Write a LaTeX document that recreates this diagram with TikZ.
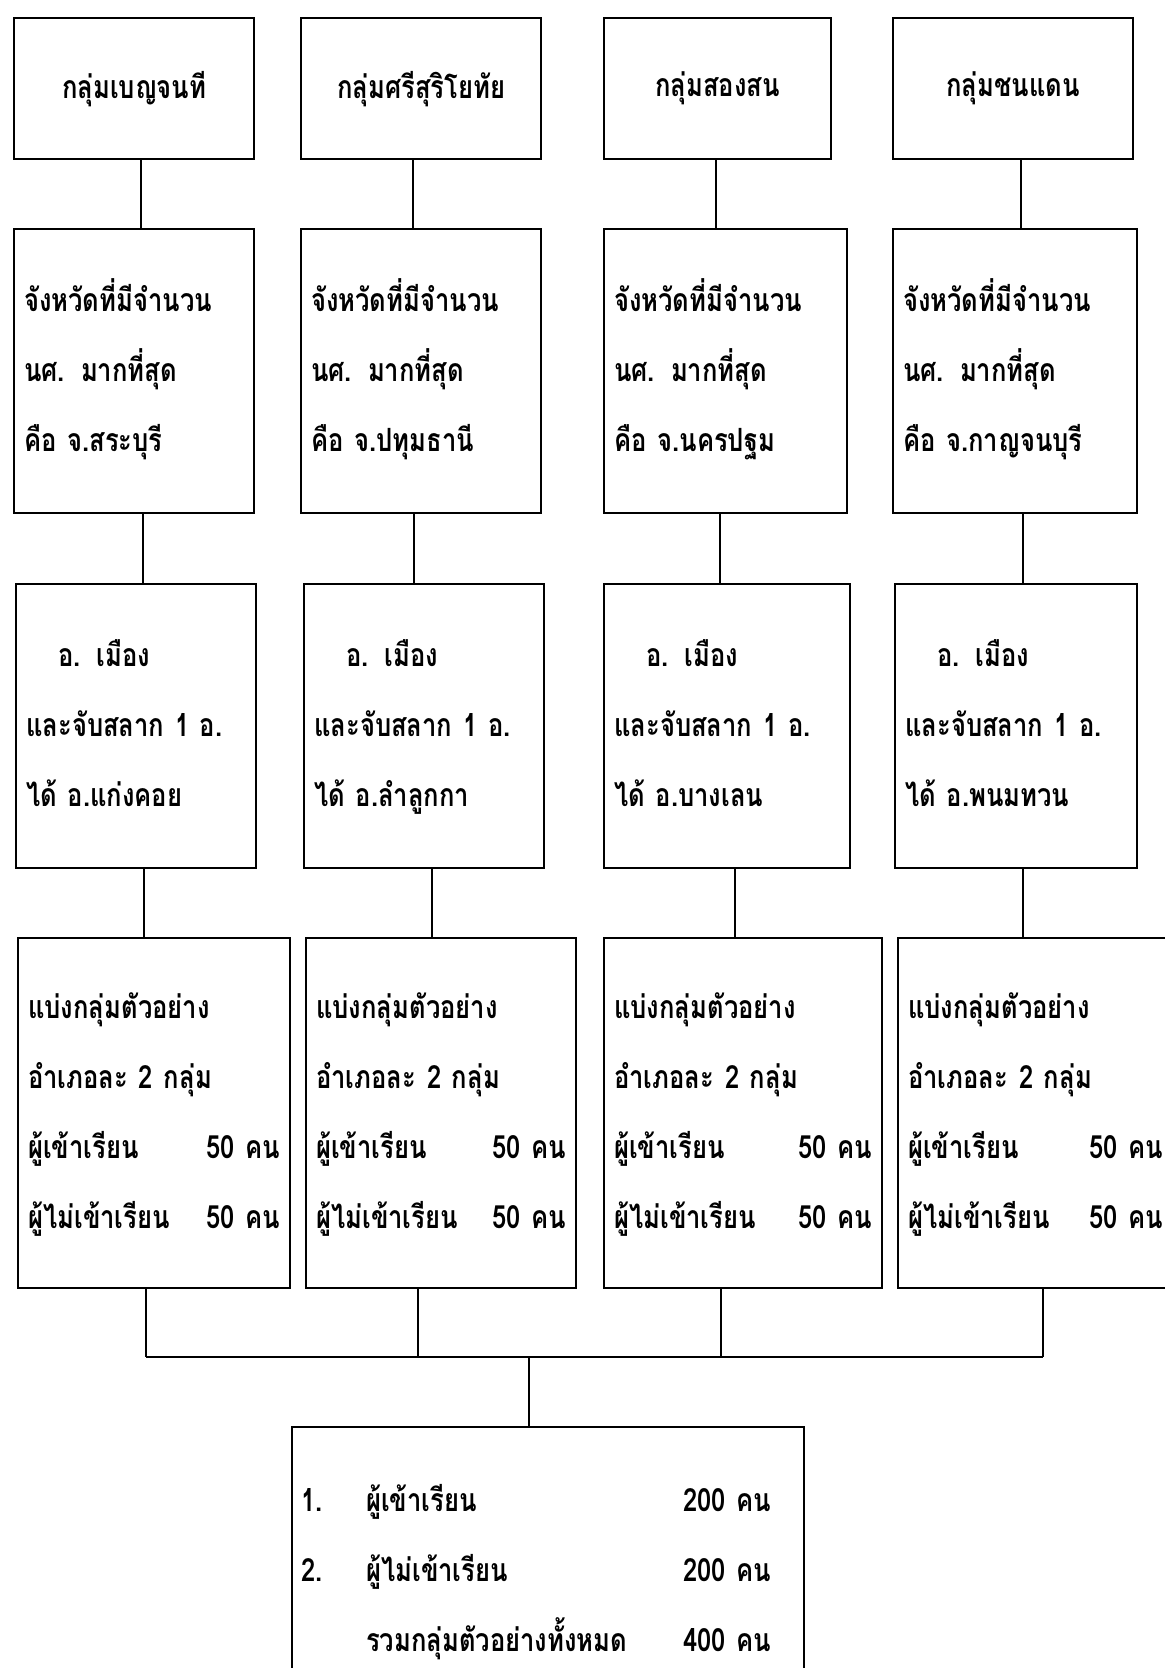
\documentclass[tikz,border=0pt]{standalone}
\usepackage{fontspec}
\newfontfamily\thaifont[Script=Thai, FakeStretch=0.8]{Loma}
\begin{document}
\begin{tikzpicture}[
        x=0.5pt, y=-0.5pt,
        font=\thaifont\bfseries\fontsize{16}{35}\selectfont,
        plain box/.style={draw, line width=1.2pt, anchor=north west, inner xsep=5pt, inner ysep=0pt},
        text box/.style={plain box, align=left},
        row box/.style={text box, execute at begin node={\rule{0pt}{16pt}}, execute at end node={\rule[-6pt]{0pt}{6pt}}},
        link line/.style={line width=1.2pt},
    ]
    \useasboundingbox (0,0) rectangle (1165,1668);

    % Hàng 1: tên กลุ่ม
    \foreach \i/\xa/\xb/\grp in {1/13/253/กลุ่มเบญจนที, 2/300/540/กลุ่มศรีสุริโยทัย, 3/603/830/กลุ่มสองสน, 4/892/1132/กลุ่มชนแดน} {
        \pgfmathsetmacro{\w}{(\xb-\xa)/2}
        \node[plain box, minimum width=\w pt, minimum height=70.5pt] (grp-\i) at (\xa, 17) {\grp};
    }

    % Hàng 2: จังหวัด
    \foreach \i/\xa/\xb/\prov in {1/13/253/สระบุรี, 2/300/540/ปทุมธานี, 3/603/846/นครปฐม, 4/892/1136/กาญจนบุรี} {
        \pgfmathsetmacro{\w}{(\xb-\xa)/2-10}
        \node[row box, text width=\w pt, minimum height=142pt] (prov-\i) at (\xa, 228)
            {จังหวัดที่มีจำนวน\\นศ. มากที่สุด\\คือ จ.\prov};
    }

    % Hàng 3: อำเภอ
    \foreach \i/\xa/\xb/\dist in {1/15/255/แก่งคอย, 2/303/543/ลำลูกกา, 3/603/849/บางเลน, 4/894/1136/พนมทวน} {
        \pgfmathsetmacro{\w}{(\xb-\xa)/2-10}
        \node[row box, text width=\w pt, minimum height=142pt] (dist-\i) at (\xa, 583)
            {\hspace*{16pt}อ. เมือง\\และจับสลาก 1 อ.\\ได้ อ.\dist};
    }

    % Hàng 4: กลุ่มตัวอย่าง
    \foreach \i/\xa/\xb in {1/17/289, 2/305/575, 3/603/881, 4/897/1172} {
        \pgfmathsetmacro{\w}{(\xb-\xa)/2-10}
        \node[row box, text width=\w pt, minimum height=175pt] (samp-\i) at (\xa, 937)
            {แบ่งกลุ่มตัวอย่าง\\อำเภอละ 2 กลุ่ม\\ผู้เข้าเรียน\hfill 50~คน\\ผู้ไม่เข้าเรียน\hfill 50~คน};
    }

    % Hộp tổng
    \node[text box, inner xsep=4.5pt, text width=247pt, minimum height=140pt] (total) at (291, 1426) {%
        \begin{tabular}{@{}p{32.5pt}@{}p{158.5pt}@{}l@{}}
            1. & ผู้เข้าเรียน & 200 คน\\
            2. & ผู้ไม่เข้าเรียน & 200 คน\\
               & รวมกลุ่มตัวอย่างทั้งหมด & 400 คน
        \end{tabular}};

    % Đường nối giữa các hàng
    \coordinate (bus) at (0, 1357);
    \coordinate (joint) at (529, 0);
    \foreach \i/\xa/\xb/\xc/\xd in {1/141/143/144/146, 2/413/414/432/418, 3/716/720/735/721, 4/1021/1023/1023/1043} {
        \coordinate (xa-\i) at (\xa, 0);
        \coordinate (xb-\i) at (\xb, 0);
        \coordinate (xc-\i) at (\xc, 0);
        \coordinate (xd-\i) at (\xd, 0);
        \draw[link line] (grp-\i.south -| xa-\i) -- (prov-\i.north -| xa-\i);
        \draw[link line] (prov-\i.south -| xb-\i) -- (dist-\i.north -| xb-\i);
        \draw[link line] (dist-\i.south -| xc-\i) -- (samp-\i.north -| xc-\i);
        \draw[link line] (samp-\i.south -| xd-\i) -- (xd-\i |- bus);
    }
    \draw[link line] (xd-1 |- bus) -- (xd-4 |- bus);
    \draw[link line] (joint |- bus) -- (total.north -| joint);

\end{tikzpicture}
\end{document}
